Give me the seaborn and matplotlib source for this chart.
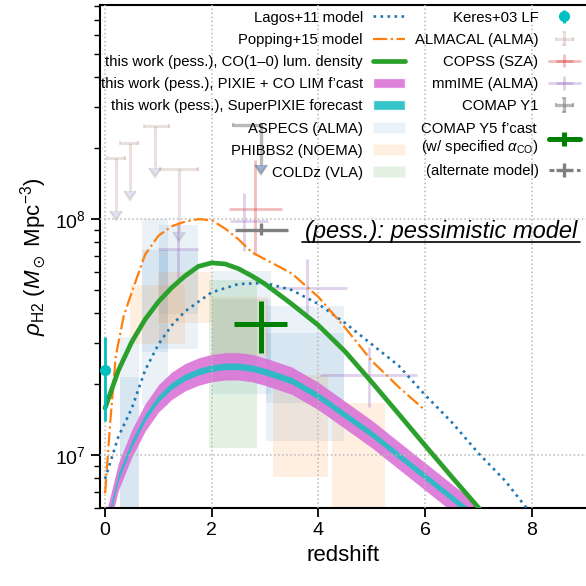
import numpy as np
import pandas as pd
import matplotlib
matplotlib.use("Agg")
import matplotlib.pyplot as plt
import seaborn as sns
from matplotlib.patches import Rectangle, Patch
from matplotlib.lines import Line2D
from matplotlib.container import ErrorbarContainer
from matplotlib.legend_handler import HandlerErrorbar

sns.set_theme(style="ticks")
plt.rcParams["font.family"] = ["Liberation Sans", "DejaVu Sans"]
plt.rcParams["mathtext.fontset"] = "custom"
plt.rcParams["mathtext.rm"] = "Liberation Sans"
plt.rcParams["mathtext.it"] = "Liberation Sans:italic"
plt.rcParams["mathtext.bf"] = "Liberation Sans:bold"
plt.rcParams["mathtext.fallback"] = "stixsans"
plt.rcParams["text.color"] = "black"
plt.rcParams["axes.labelcolor"] = "black"
plt.rcParams["xtick.color"] = "black"
plt.rcParams["ytick.color"] = "black"

UNIT = 1e7  # all densities below are in units of 1e7 Msun / Mpc^3
CYAN = "#00bfbf"
BAND_CYAN = "#1fbfc4"

# ---------------- model curves ----------------
lagos_z = [0.0, 0.25, 0.5, 0.75, 1.0, 1.25, 1.5, 1.75, 2.0, 2.5, 3.0, 3.5, 4.0,
           4.5, 5.0, 5.5, 6.0, 6.5, 7.0, 7.5, 8.0]
lagos_rho = [0.794, 1.20, 1.58, 2.29, 2.95, 3.55, 4.07, 4.47, 4.90, 5.31, 5.37,
             5.01, 4.37, 3.63, 2.95, 2.40, 1.80, 1.38, 1.02, 0.78, 0.56]

popping_z = [0.0, 0.1, 0.2, 0.35, 0.5, 0.75, 1.0, 1.25, 1.5, 1.75, 2.0, 2.25,
             2.5, 2.75, 3.0, 3.25, 3.5, 3.75, 4.0, 4.5, 5.0, 5.5, 6.0]
popping_rho = [0.69, 1.41, 2.63, 3.89, 4.90, 7.08, 8.51, 9.33, 9.77, 10.0, 9.89,
               9.12, 8.22, 7.24, 6.76, 6.31, 5.89, 5.25, 4.68, 3.47, 2.51, 1.95, 1.55]

co_z = [0.0, 0.25, 0.5, 0.75, 1.0, 1.25, 1.5, 1.75, 2.0, 2.25, 2.5, 2.75, 3.0,
        3.5, 4.0, 4.5, 5.0, 5.5, 6.0, 6.5, 7.0, 7.5]
co_rho = [1.585, 2.29, 3.02, 3.76, 4.47, 5.13, 5.75, 6.31, 6.53, 6.46, 6.17,
          5.75, 5.31, 4.37, 3.55, 2.75, 2.04, 1.50, 1.10, 0.81, 0.60, 0.45]

lim_z = [0.0, 0.25, 0.5, 0.75, 1.0, 1.25, 1.5, 1.75, 2.0, 2.25, 2.5, 2.75, 3.0,
         3.5, 4.0, 4.5, 5.0, 5.5, 6.0, 6.5, 7.0]
lim_rho = [0.479, 0.813, 1.12, 1.445, 1.74, 1.97, 2.14, 2.26, 2.34, 2.38, 2.38,
           2.34, 2.26, 2.07, 1.78, 1.48, 1.23, 1.00, 0.813, 0.661, 0.537]
pixie_dex = 0.058       # PIXIE + CO LIM forecast half-width (dex)
superpixie_dex = 0.014  # SuperPIXIE forecast half-width (dex)

# ---------------- survey boxes (z range, density range) ----------------
aspecs_z = [(0.27, 0.63), (0.69, 1.17), (1.01, 1.74), (2.01, 3.11), (3.01, 4.48)]
aspecs_2sig = [(0.30, 3.16), (1.62, 10.0), (2.82, 9.46), (1.82, 6.03), (1.15, 4.27)]
aspecs_1sig = [(0.30, 2.14), (2.75, 7.41), (3.98, 7.41), (2.51, 4.57), (1.66, 3.31)]

phibbs_z = [(0.47, 1.50), (1.00, 2.00), (2.00, 3.05), (3.15, 4.18), (4.26, 5.25)]
phibbs_rho = [(2.95, 5.25), (3.63, 5.97), (2.61, 4.68), (0.81, 2.19), (0.30, 1.66)]

coldz_z = [(1.95, 2.85)]
coldz_rho = [(1.07, 5.50)]

# ---------------- point measurements ----------------
keres_z, keres_rho, keres_lo, keres_hi = [0.0], [2.30], [1.39], [3.17]

almacal_z = [0.20, 0.46, 0.94, 1.39]
almacal_zlo = [0.03, 0.28, 0.72, 1.03]
almacal_zhi = [0.375, 0.62, 1.19, 1.75]
almacal_lim = [18.2, 21.0, 24.7, 16.3]
almacal_arrow = [10.8, 13.1, 16.4, 8.8]

copss_z, copss_zlo, copss_zhi = [2.82], [2.33], [3.32]
copss_rho, copss_lo, copss_hi = [11.0], [7.06], [17.8]

mmime_z = [1.37, 2.60, 3.78, 4.94]
mmime_zlo = [1.00, 2.34, 3.03, 4.03]
mmime_zhi = [1.75, 3.06, 4.53, 5.84]
mmime_rho = [7.5, 9.8, 5.1, 2.19]
mmime_lo = [5.4, 7.3, 3.8, 1.60]
mmime_hi = [9.7, 12.9, 6.8, 2.88]

comap1_z, comap1_zlo, comap1_zhi = [2.92], [2.40], [2.95]
comap1_lim, comap1_arrow = [25.1], [17.0]

comap5_z, comap5_zlo, comap5_zhi = [2.93], [2.42], [3.42]
comap5_rho, comap5_lo, comap5_hi = [3.60], [2.70], [4.48]

alt_z, alt_zlo, alt_zhi = [2.92], [2.44], [3.43]
alt_rho, alt_lo, alt_hi = [9.0], [8.6], [9.6]

# ---------------- figure ----------------
fig = plt.figure(figsize=(5.86, 5.86), dpi=100)
ax = fig.add_axes([0.1698, 0.1326, 0.8302, 0.8594])
ax.set_yscale("log")


def add_boxes(zr, rr, color, alpha):
    for (z0, z1), (r0, r1) in zip(zr, rr):
        ax.add_patch(Rectangle((z0, r0 * UNIT), z1 - z0, (r1 - r0) * UNIT,
                               facecolor=color, alpha=alpha, lw=0, zorder=1))


add_boxes(aspecs_z, aspecs_2sig, "tab:blue", 0.09)
add_boxes(aspecs_z, aspecs_1sig, "tab:blue", 0.09)
add_boxes(phibbs_z, phibbs_rho, "tab:orange", 0.12)
add_boxes(coldz_z, coldz_rho, "tab:green", 0.13)

# forecast bands
lim = np.array(lim_rho) * UNIT
ax.fill_between(lim_z, lim * 10**-pixie_dex, lim * 10**pixie_dex,
                color="orchid", alpha=0.88, lw=0, zorder=1.6)
ax.fill_between(lim_z, lim * 10**-superpixie_dex, lim * 10**superpixie_dex,
                color=BAND_CYAN, alpha=0.9, lw=0, zorder=1.7)

# model curves
curves = pd.DataFrame({"z": lagos_z, "rho": np.array(lagos_rho) * UNIT})
sns.lineplot(data=curves, x="z", y="rho", ax=ax, color="tab:blue",
             linestyle=":", lw=1.9, zorder=3, errorbar=None)
curves = pd.DataFrame({"z": popping_z, "rho": np.array(popping_rho) * UNIT})
sns.lineplot(data=curves, x="z", y="rho", ax=ax, color="tab:orange",
             linestyle="-.", lw=1.6, zorder=3, errorbar=None)
curves = pd.DataFrame({"z": co_z, "rho": np.array(co_rho) * UNIT})
sns.lineplot(data=curves, x="z", y="rho", ax=ax, color="tab:green",
             linestyle="-", lw=3.4, zorder=3.1, errorbar=None)


def asym(center, lo, hi):
    c = np.array(center)
    return [c - np.array(lo), np.array(hi) - c]


def style_limit_caps(container, tick_size=3.5, arrow_size=9):
    # x caps first, then the arrow heads and the flat cap at the limit value
    for line in container[1]:
        m = line.get_marker()
        if m == "|":
            line.set_markersize(tick_size)
        elif m == "_":
            line.set_markersize(0)
        else:
            line.set_markersize(arrow_size)


def point_errorbars(z, zlo, zhi, rho, lo, hi, **kw):
    # one call per point so the (invisible) data line only shows in the legend
    first = None
    for i in range(len(z)):
        eb = ax.errorbar([z[i]], [rho[i] * UNIT],
                         xerr=[[z[i] - zlo[i]], [zhi[i] - z[i]]],
                         yerr=[[(rho[i] - lo[i]) * UNIT], [(hi[i] - rho[i]) * UNIT]],
                         **kw)
        first = first or eb
    return first


eb_keres = ax.errorbar(keres_z, np.array(keres_rho) * UNIT,
                       yerr=np.array(asym(keres_rho, keres_lo, keres_hi)) * UNIT,
                       fmt="o", color=CYAN, ms=7, elinewidth=2, capsize=0, zorder=4)

alm = np.array(almacal_lim)
eb_almacal = ax.errorbar(almacal_z, alm * UNIT,
                         xerr=asym(almacal_z, almacal_zlo, almacal_zhi),
                         yerr=[(alm - np.array(almacal_arrow)) * UNIT, np.zeros_like(alm)],
                         uplims=True, fmt="none", ecolor="tab:brown", alpha=0.18,
                         elinewidth=2.2, capsize=4, capthick=1.5, zorder=2)
style_limit_caps(eb_almacal)

eb_copss = point_errorbars(copss_z, copss_zlo, copss_zhi, copss_rho, copss_lo,
                           copss_hi, fmt="-", color="tab:red", alpha=0.3,
                           lw=2, elinewidth=2, capsize=0, zorder=2)

eb_mmime = point_errorbars(mmime_z, mmime_zlo, mmime_zhi, mmime_rho, mmime_lo,
                           mmime_hi, fmt="-", color="tab:purple", alpha=0.3,
                           lw=2, elinewidth=2, capsize=0, zorder=2)

c1 = np.array(comap1_lim)
eb_comap1 = ax.errorbar(comap1_z, c1 * UNIT,
                        xerr=asym(comap1_z, comap1_zlo, comap1_zhi),
                        yerr=[(c1 - np.array(comap1_arrow)) * UNIT, np.zeros_like(c1)],
                        uplims=True, fmt="none", ecolor="gray", alpha=0.55,
                        elinewidth=2.4, capsize=4, capthick=1.5, zorder=2)
style_limit_caps(eb_comap1)

eb_comap5 = point_errorbars(comap5_z, comap5_zlo, comap5_zhi, comap5_rho,
                            comap5_lo, comap5_hi, fmt="-", color="green",
                            lw=3.6, elinewidth=3.6, capsize=0, zorder=4)

eb_alt = point_errorbars(alt_z, alt_zlo, alt_zhi, alt_rho, alt_lo, alt_hi,
                         fmt="-", color="gray", lw=2.2, elinewidth=2.4,
                         capsize=0, zorder=4)
eb_alt[0].set_dashes((1.6, 1.4))

# axes styling
ax.set_xlim(-0.105, 9.017)
ax.set_ylim(5.96e6, 8.1e8)
ax.set_xticks([0, 2, 4, 6, 8])
ax.grid(True, which="major", color="#b8b8b8", linestyle=":", lw=1.1)
ax.set_axisbelow(False)
for s in ["left", "bottom", "top"]:
    ax.spines[s].set_color("black")
    ax.spines[s].set_linewidth(1.5)
ax.spines["right"].set_visible(False)
ax.tick_params(which="major", direction="out", length=6.5, width=1.3,
               labelsize=14, top=False, right=False)
ax.tick_params(which="minor", direction="out", length=4, width=1.0,
               top=False, right=False)
ax.set_xlabel("redshift", fontsize=16)
ax.set_ylabel(r"$\rho_{\rm H2}$ ($M_\odot$ Mpc$^{-3}$)", fontsize=16)

# annotation
ax.text(0.423, 0.536, "(pess.): pessimistic model", transform=ax.transAxes,
        fontsize=17, style="italic", ha="left", va="baseline", zorder=5)
ax.plot([0.416, 0.988], [0.529, 0.529], transform=ax.transAxes, color="black",
        lw=1.2, zorder=5, clip_on=False)

# legend
handles = [
    Line2D([], [], color="tab:blue", linestyle=":", lw=1.9),
    Line2D([], [], color="tab:orange", linestyle="-.", lw=1.6),
    Line2D([], [], color="tab:green", lw=3.4),
    Patch(facecolor="orchid", alpha=0.88),
    Patch(facecolor=BAND_CYAN, alpha=0.9),
    Patch(facecolor="tab:blue", alpha=0.09),
    Patch(facecolor="tab:orange", alpha=0.12),
    Patch(facecolor="tab:green", alpha=0.13),
    eb_keres, eb_almacal, eb_copss, eb_mmime, eb_comap1, eb_comap5, eb_alt,
]
labels = [
    "Lagos+11 model",
    "Popping+15 model",
    "this work (pess.), CO(1\u20130) lum. density",
    "this work (pess.), PIXIE + CO LIM f\u2019cast",
    "this work (pess.), SuperPIXIE forecast",
    "ASPECS (ALMA)",
    "PHIBBS2 (NOEMA)",
    "COLDz (VLA)",
    "Keres+03 LF",
    "ALMACAL (ALMA)",
    "COPSS (SZA)",
    "mmIME (ALMA)",
    "COMAP Y1",
    "COMAP Y5 f\u2019cast\n(w/ specified $\\alpha_{\\rm CO}$)",
    "(alternate model)",
]
ax.legend(handles, labels, loc="upper right", ncol=2, markerfirst=False,
          frameon=False, fontsize=10.7, handlelength=2.1, handletextpad=0.7,
          columnspacing=0.7, labelspacing=0.55, borderpad=0.2,
          borderaxespad=0.2,
          handler_map={ErrorbarContainer: HandlerErrorbar(xerr_size=0.57,
                                                          yerr_size=0.45)})

fig.savefig("out.png", dpi=100)
